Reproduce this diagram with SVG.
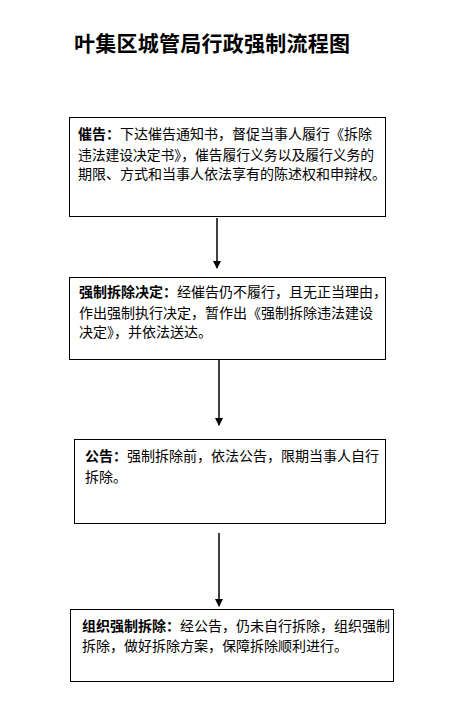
<svg xmlns="http://www.w3.org/2000/svg" width="467" height="712" viewBox="0 0 467 712">
<style>
.t{font-family:"Noto Sans CJK SC","Liberation Sans",sans-serif;font-size:14px;fill:#000}
.b{font-weight:bold}
.box{fill:#fff;stroke:#000;stroke-width:1}
.c{stroke:#000;stroke-width:1.5;fill:none}
</style>
<defs>
<marker id="ah" markerWidth="8" markerHeight="8" refX="7" refY="4" orient="auto" markerUnits="userSpaceOnUse">
<path d="M0,0 L8,4 L0,8 Z" fill="#000"/>
</marker>
</defs>
<rect width="467" height="712" fill="#fff"/>
<text x="74" y="51" font-family="Noto Sans CJK SC,sans-serif" font-size="21" font-weight="bold" textLength="276">叶集区城管局行政强制流程图</text>
<g id="n1">
<rect class="box" x="69.5" y="117.5" width="316" height="99"/>
<text class="t" x="78" y="139"><tspan class="b">催告：</tspan>下达催告通知书，督促当事人履行《拆除</text>
<text class="t" x="78" y="160" textLength="296" lengthAdjust="spacingAndGlyphs">违法建设决定书》，催告履行义务以及履行义务的</text>
<text class="t" x="78" y="179">期限、方式和当事人依法享有的陈述权和申辩权。</text>
</g>
<g id="n2">
<rect class="box" x="69.5" y="277.5" width="316" height="82"/>
<text class="t" x="79" y="297"><tspan class="b">强制拆除决定：</tspan>经催告仍不履行，且无正当理由，</text>
<text class="t" x="79" y="318">作出强制执行决定，暂作出《强制拆除违法建设</text>
<text class="t" x="79" y="337">决定》，并依法送达。</text>
</g>
<g id="n3">
<rect class="box" x="74.5" y="439.5" width="311" height="84"/>
<text class="t" x="85" y="461"><tspan class="b">公告：</tspan>强制拆除前，依法公告，限期当事人自行</text>
<text class="t" x="85" y="482">拆除。</text>
</g>
<g id="n4">
<rect class="box" x="70.5" y="609.5" width="323" height="72"/>
<text class="t" x="82" y="631"><tspan class="b">组织强制拆除：</tspan>经公告，仍未自行拆除，组织强制</text>
<text class="t" x="82" y="651">拆除，做好拆除方案，保障拆除顺利进行。</text>
</g>
<g id="connectors">
<line class="c" x1="217" y1="218" x2="217" y2="268" marker-end="url(#ah)"/>
<line class="c" x1="219" y1="360" x2="219" y2="425" marker-end="url(#ah)"/>
<line class="c" x1="219" y1="533" x2="219" y2="606" marker-end="url(#ah)"/>
</g>
</svg>
